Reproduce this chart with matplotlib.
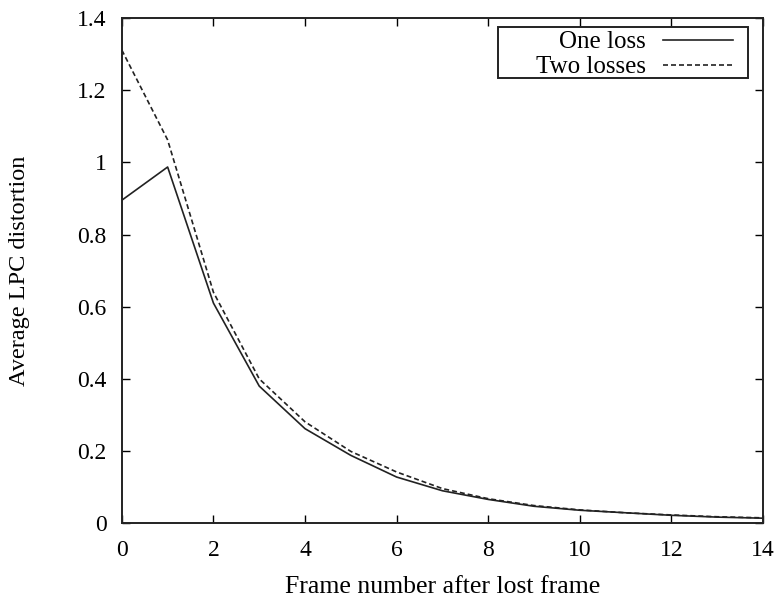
import numpy as np
import matplotlib.pyplot as plt
from matplotlib.ticker import FuncFormatter
from matplotlib.patches import Rectangle

plt.rcParams['font.family'] = ['Liberation Serif', 'DejaVu Serif']

# data
frames = np.arange(0, 15)
one_loss = [0.895, 0.987, 0.61, 0.38, 0.262, 0.188, 0.128, 0.090, 0.066,
            0.047, 0.036, 0.029, 0.022, 0.017, 0.014]
two_losses = [1.311, 1.062, 0.64, 0.40, 0.281, 0.199, 0.142, 0.096, 0.068,
              0.049, 0.037, 0.029, 0.023, 0.018, 0.015]

fig = plt.figure(figsize=(7.81, 5.98), dpi=100)
ax = fig.add_axes([0.156, 0.125, 0.821, 0.845])

ax.plot(frames, one_loss, color='#222222', lw=1.2, label='One loss')
ax.plot(frames, two_losses, color='#222222', lw=1.2, ls=(0, (3, 1.8)), label='Two losses')

ax.set_xlim(0, 14)
ax.set_ylim(0, 1.4)
ax.set_xticks(np.arange(0, 15, 2))
ax.set_yticks(np.arange(0, 1.41, 0.2))
ax.yaxis.set_major_formatter(FuncFormatter(lambda v, p: '%g' % round(v, 1)))
ax.tick_params(direction='in', top=True, right=True, length=5.5, width=1,
               labelsize=17)
ax.tick_params(axis='x', pad=12)
ax.tick_params(axis='y', pad=11)
for s in ax.spines.values():
    s.set_linewidth(1.4)
    s.set_color('#222222')

ax.set_xlabel('Frame number after lost frame', fontsize=18.5, labelpad=11)
ax.set_ylabel('Average LPC distortion', fontsize=17.5, labelpad=34)

# key: right edge of line at ~733 px, text a little below the box top
leg = ax.legend(loc='upper right', bbox_to_anchor=(1 - 30 / 641, 1 - 13 / 505),
                borderaxespad=0, markerfirst=False,
                frameon=False, fontsize=18, handlelength=2.8,
                borderpad=0, labelspacing=0.1, handletextpad=0.7)

# gnuplot-style key box, wider on the left than on the right
fig.canvas.draw()
ext = leg.get_window_extent().transformed(fig.transFigure.inverted())
dx_l = 38 / 781
dx_r = 15 / 781
dy_t = 4 / 598
fig.patches.append(Rectangle((ext.x0 - dx_l, ext.y0), ext.width + dx_l + dx_r,
                             ext.height + dy_t,
                             transform=fig.transFigure, fill=False, lw=1.4,
                             edgecolor='#222222', zorder=5))

fig.savefig('out.png', dpi=100)
